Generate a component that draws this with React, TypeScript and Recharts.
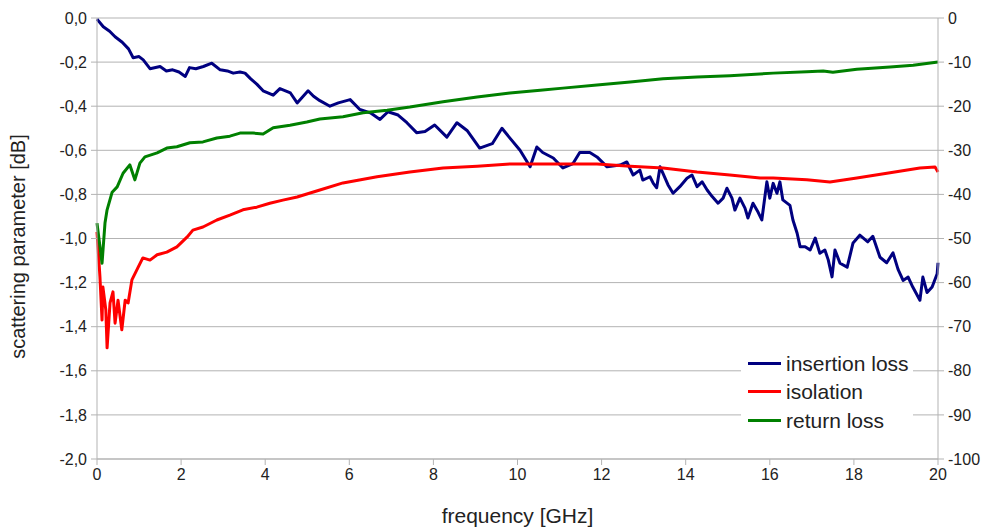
import React from 'react';
import { LineChart, Line, XAxis, YAxis, CartesianGrid, Label } from 'recharts';

const xTicks = [0, 2, 4, 6, 8, 10, 12, 14, 16, 18, 20];
const leftTicks = [0, -0.2, -0.4, -0.6, -0.8, -1.0, -1.2, -1.4, -1.6, -1.8, -2.0];
const rightTicks = [0, -10, -20, -30, -40, -50, -60, -70, -80, -90, -100];

const insertionFreq = [0.0, 0.15, 0.3, 0.43, 0.6, 0.75, 0.86, 1.0, 1.1, 1.26, 1.5, 1.65, 1.8, 1.95, 2.1, 2.2, 2.35, 2.53, 2.73, 2.93, 3.1, 3.24, 3.4, 3.52, 3.65, 3.8, 3.95, 4.19, 4.35, 4.6, 4.76, 5.02, 5.15, 5.3, 5.54, 5.74, 6.02, 6.25, 6.5, 6.73, 6.92, 7.16, 7.37, 7.6, 7.8, 8.03, 8.32, 8.56, 8.8, 9.1, 9.4, 9.63, 9.82, 10.06, 10.3, 10.46, 10.6, 10.85, 11.08, 11.32, 11.48, 11.72, 11.89, 12.13, 12.44, 12.6, 12.75, 12.91, 12.98, 13.15, 13.23, 13.31, 13.39, 13.46, 13.58, 13.7, 13.86, 14.03, 14.15, 14.27, 14.39, 14.51, 14.63, 14.77, 14.89, 14.98, 15.1, 15.17, 15.29, 15.41, 15.48, 15.6, 15.72, 15.81, 15.93, 16.0, 16.08, 16.17, 16.24, 16.31, 16.48, 16.55, 16.65, 16.72, 16.84, 16.96, 17.08, 17.19, 17.31, 17.39, 17.48, 17.55, 17.67, 17.84, 17.98, 18.14, 18.33, 18.45, 18.62, 18.78, 18.93, 19.05, 19.17, 19.29, 19.4, 19.57, 19.64, 19.74, 19.86, 19.98, 20.0];
const insertionLoss = [-0.005, -0.04, -0.06, -0.085, -0.11, -0.14, -0.18, -0.175, -0.19, -0.23, -0.22, -0.24, -0.235, -0.245, -0.265, -0.225, -0.23, -0.22, -0.205, -0.235, -0.24, -0.25, -0.245, -0.25, -0.275, -0.3, -0.33, -0.35, -0.32, -0.34, -0.385, -0.33, -0.355, -0.375, -0.4, -0.385, -0.37, -0.415, -0.43, -0.46, -0.425, -0.44, -0.475, -0.52, -0.515, -0.485, -0.54, -0.475, -0.51, -0.59, -0.57, -0.5, -0.545, -0.6, -0.675, -0.585, -0.61, -0.635, -0.68, -0.66, -0.61, -0.61, -0.63, -0.675, -0.667, -0.653, -0.712, -0.69, -0.735, -0.72, -0.75, -0.77, -0.675, -0.705, -0.757, -0.795, -0.765, -0.727, -0.712, -0.765, -0.743, -0.78, -0.81, -0.84, -0.817, -0.772, -0.817, -0.871, -0.817, -0.862, -0.907, -0.84, -0.88, -0.916, -0.743, -0.817, -0.75, -0.795, -0.743, -0.825, -0.85, -0.916, -0.976, -1.037, -1.037, -1.052, -0.998, -1.067, -1.052, -1.097, -1.174, -1.052, -1.112, -1.13, -1.02, -0.985, -1.015, -0.99, -1.085, -1.11, -1.065, -1.14, -1.19, -1.175, -1.22, -1.28, -1.175, -1.245, -1.22, -1.16, -1.11];

const isolationFreq = [0.0, 0.07, 0.12, 0.14, 0.21, 0.24, 0.31, 0.38, 0.43, 0.5, 0.59, 0.67, 0.74, 0.83, 0.98, 1.09, 1.26, 1.43, 1.66, 1.9, 2.14, 2.28, 2.52, 2.85, 3.16, 3.47, 3.8, 4.11, 4.42, 4.76, 5.3, 5.85, 6.66, 7.44, 8.23, 9.04, 9.82, 10.54, 11.08, 11.89, 12.68, 13.46, 14.27, 15.05, 15.77, 16.08, 16.88, 17.43, 18.07, 18.86, 19.57, 19.93, 20.0];
const isolation = [-48.5, -58.7, -68.5, -61.0, -66.2, -74.8, -64.6, -62.1, -69.2, -64.0, -70.7, -64.0, -64.6, -59.4, -56.5, -54.4, -54.9, -53.7, -53.1, -51.9, -49.7, -48.1, -47.4, -45.8, -44.7, -43.5, -42.9, -42.0, -41.3, -40.6, -39.0, -37.4, -36.0, -34.9, -34.0, -33.6, -33.1, -33.1, -33.1, -33.1, -33.6, -34.0, -34.9, -35.6, -36.3, -36.3, -36.7, -37.2, -36.3, -35.1, -34.0, -33.8, -34.9];

const returnFreq = [0.0, 0.12, 0.19, 0.24, 0.36, 0.48, 0.62, 0.78, 0.9, 1.02, 1.14, 1.43, 1.66, 1.9, 2.21, 2.52, 2.85, 3.16, 3.4, 3.71, 3.95, 4.19, 4.59, 4.99, 5.3, 5.85, 6.33, 6.9, 7.44, 8.23, 9.04, 9.82, 10.54, 11.08, 11.89, 12.68, 13.46, 14.27, 15.05, 16.08, 16.88, 17.27, 17.5, 18.07, 18.86, 19.41, 20.0];
const returnLoss = [-46.5, -55.6, -46.5, -43.5, -39.5, -38.3, -35.2, -33.3, -36.7, -32.9, -31.5, -30.6, -29.5, -29.2, -28.3, -28.1, -27.2, -26.8, -26.1, -26.1, -26.3, -24.9, -24.3, -23.6, -22.9, -22.4, -21.5, -20.9, -20.2, -19.0, -17.9, -17.0, -16.4, -15.9, -15.2, -14.5, -13.8, -13.4, -13.1, -12.5, -12.2, -12.0, -12.3, -11.6, -11.1, -10.7, -10.0];

const seriesNames = ['insertion loss', 'isolation', 'return loss'];
const seriesColors = ['#000080', '#ff0000', '#008000'];

const toData = (fs: number[], vs: number[]) => fs.map((f, i) => ({ f, v: vs[i] }));
const insertionData = toData(insertionFreq, insertionLoss);
const isolationData = toData(isolationFreq, isolation);
const returnData = toData(returnFreq, returnLoss);

const FONT = '"Liberation Sans", Arial, sans-serif';
const GRID = '#b3b3b3';
const TEXT = '#222222';

const fmtLeft = (v: number) => (v === 0 ? '0,0' : v.toFixed(1).replace('.', ','));

export default function App() {
  return (
    <div style={{ position: 'absolute', left: 0, top: 0, width: 984, height: 530, background: '#fff' }}>
      <LineChart width={984} height={530} margin={{ top: 18, right: 0, bottom: 0, left: 0 }}>
        <CartesianGrid horizontal vertical={false} stroke={GRID} strokeWidth={1} yAxisId="left" />
        <XAxis
          dataKey="f"
          type="number"
          domain={[0, 20]}
          ticks={xTicks}
          allowDuplicatedCategory={false}
          stroke={GRID}
          tickSize={6}
          height={71}
          tick={{ fill: TEXT, fontSize: 16, fontFamily: FONT }}
          tickMargin={4}
        >
          <Label value="frequency [GHz]" position="insideBottom" offset={7} style={{ fill: TEXT, fontSize: 21, fontFamily: FONT }} />
        </XAxis>
        <YAxis
          yAxisId="left"
          orientation="left"
          type="number"
          domain={[-2, 0]}
          ticks={leftTicks}
          tickFormatter={fmtLeft}
          width={97}
          stroke={GRID}
          tickSize={6}
          tickMargin={4}
          tick={{ fill: TEXT, fontSize: 16, fontFamily: FONT }}
        >
          <Label value="scattering parameter [dB]" angle={-90} position="insideLeft" offset={18} dy={8} style={{ textAnchor: 'middle', fill: TEXT, fontSize: 20, fontFamily: FONT }} />
        </YAxis>
        <YAxis
          yAxisId="right"
          orientation="right"
          type="number"
          domain={[-100, 0]}
          ticks={rightTicks}
          width={46}
          stroke={GRID}
          tickSize={6}
          tickMargin={4}
          tick={{ fill: TEXT, fontSize: 16, fontFamily: FONT }}
        />
        <Line yAxisId="left" data={insertionData} dataKey="v" name={seriesNames[0]} stroke={seriesColors[0]} strokeWidth={3} dot={false} isAnimationActive={false} strokeLinejoin="round" />
        <Line yAxisId="right" data={isolationData} dataKey="v" name={seriesNames[1]} stroke={seriesColors[1]} strokeWidth={3} dot={false} isAnimationActive={false} strokeLinejoin="round" />
        <Line yAxisId="right" data={returnData} dataKey="v" name={seriesNames[2]} stroke={seriesColors[2]} strokeWidth={3} dot={false} isAnimationActive={false} strokeLinejoin="round" />
      </LineChart>
      <div style={{ position: 'absolute', left: 741, top: 345, width: 172, height: 90, background: '#fff', paddingTop: 4, boxSizing: 'border-box', fontFamily: FONT }}>
        {seriesNames.map((n, i) => (
          <div key={n} style={{ display: 'flex', alignItems: 'center', height: 28.5, paddingLeft: 7 }}>
            <div style={{ width: 33, height: 3, background: seriesColors[i], marginRight: 5 }} />
            <span style={{ fontSize: 21, color: TEXT, lineHeight: '21px' }}>{n}</span>
          </div>
        ))}
      </div>
    </div>
  );
}
